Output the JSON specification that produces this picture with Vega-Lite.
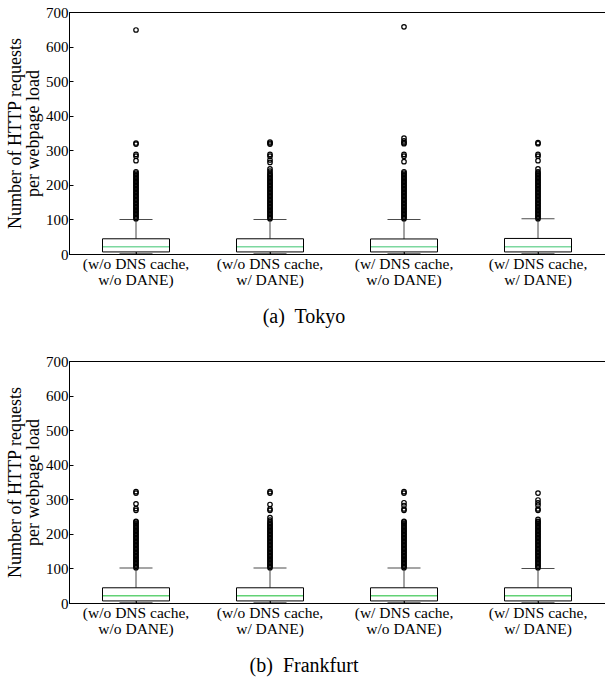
{
"$schema": "https://vega.github.io/schema/vega-lite/v6.json",
"padding": {"left": 6, "top": 4, "right": 0, "bottom": 0},
"background": "white",
"config": {
  "font": "Liberation Serif",
  "view": {"stroke": "#000", "strokeWidth": 1},
  "style": {"guide-label": {"font": "Liberation Serif, Times New Roman, serif", "fill": "#000"}, "guide-title": {"font": "Liberation Serif, Times New Roman, serif", "fill": "#000", "fontWeight": "normal"}},
  "axis": {"grid": false, "labelFont": "Liberation Serif, Times New Roman, serif", "labelFontSize": 15, "labelColor": "#000", "domainColor": "#000", "tickColor": "#000", "titleFont": "Liberation Serif, Times New Roman, serif", "titleFontWeight": "normal", "titleColor": "#000", "labelOverlap": false},
  "axisX": {"labelFont": "Liberation Serif, Times New Roman, serif", "labelColor": "#000", "title": null, "labelAngle": 0, "labelFontSize": 15.5, "labelLineHeight": 16.5, "labelPadding": 6, "tickSize": -4, "labelExpr": "datum.value == 'A' ? ['(w/o DNS cache,','w/o DANE)'] : datum.value == 'B' ? ['(w/o DNS cache,','w/ DANE)'] : datum.value == 'C' ? ['(w/ DNS cache,','w/o DANE)'] : ['(w/ DNS cache,','w/ DANE)']"},
  "axisY": {"labelFont": "Liberation Serif, Times New Roman, serif", "titleFont": "Liberation Serif, Times New Roman, serif", "labelColor": "#000", "titleColor": "#000", "titleFontWeight": "normal", "tickCount": 8, "titleFontSize": 18, "titleLineHeight": 18, "titlePadding": 3, "tickSize": -4, "labelPadding": 5, "labelFontSize": 15},
  "title": {"font": "Liberation Serif", "fontSize": 20, "fontWeight": "normal", "color": "#000"}
},
"datasets": {
  "stats": [
    {"city":"T","cat":"A","lo":1,"q1":6,"med":21,"q3":44,"hi":100},
    {"city":"T","cat":"B","lo":1,"q1":6,"med":21,"q3":44,"hi":100},
    {"city":"T","cat":"C","lo":1,"q1":6,"med":21,"q3":43.5,"hi":100},
    {"city":"T","cat":"D","lo":1,"q1":6,"med":21,"q3":45,"hi":102},
    {"city":"F","cat":"A","lo":1,"q1":6,"med":21,"q3":44,"hi":101},
    {"city":"F","cat":"B","lo":1,"q1":6,"med":21,"q3":44,"hi":101},
    {"city":"F","cat":"C","lo":1,"q1":6,"med":21,"q3":44,"hi":101},
    {"city":"F","cat":"D","lo":1,"q1":6,"med":21,"q3":44,"hi":100}
  ],
  "out": [
    {"city":"T","cat":"A","v":102},{"city":"T","cat":"A","v":106},{"city":"T","cat":"A","v":110},{"city":"T","cat":"A","v":114},{"city":"T","cat":"A","v":118},{"city":"T","cat":"A","v":122},{"city":"T","cat":"A","v":126},{"city":"T","cat":"A","v":130},{"city":"T","cat":"A","v":134},{"city":"T","cat":"A","v":138},{"city":"T","cat":"A","v":142},{"city":"T","cat":"A","v":146},{"city":"T","cat":"A","v":150},{"city":"T","cat":"A","v":154},{"city":"T","cat":"A","v":158},{"city":"T","cat":"A","v":162},{"city":"T","cat":"A","v":166},{"city":"T","cat":"A","v":170},{"city":"T","cat":"A","v":174},{"city":"T","cat":"A","v":178},{"city":"T","cat":"A","v":182},{"city":"T","cat":"A","v":186},{"city":"T","cat":"A","v":190},{"city":"T","cat":"A","v":194},{"city":"T","cat":"A","v":198},{"city":"T","cat":"A","v":202},{"city":"T","cat":"A","v":206},{"city":"T","cat":"A","v":210},{"city":"T","cat":"A","v":214},{"city":"T","cat":"A","v":218},{"city":"T","cat":"A","v":222},{"city":"T","cat":"A","v":226},{"city":"T","cat":"A","v":230},{"city":"T","cat":"A","v":234},
    {"city":"T","cat":"A","v":238},{"city":"T","cat":"A","v":270},{"city":"T","cat":"A","v":283},{"city":"T","cat":"A","v":288},{"city":"T","cat":"A","v":318},{"city":"T","cat":"A","v":321},{"city":"T","cat":"A","v":648},
    {"city":"T","cat":"B","v":102},{"city":"T","cat":"B","v":106},{"city":"T","cat":"B","v":110},{"city":"T","cat":"B","v":114},{"city":"T","cat":"B","v":118},{"city":"T","cat":"B","v":122},{"city":"T","cat":"B","v":126},{"city":"T","cat":"B","v":130},{"city":"T","cat":"B","v":134},{"city":"T","cat":"B","v":138},{"city":"T","cat":"B","v":142},{"city":"T","cat":"B","v":146},{"city":"T","cat":"B","v":150},{"city":"T","cat":"B","v":154},{"city":"T","cat":"B","v":158},{"city":"T","cat":"B","v":162},{"city":"T","cat":"B","v":166},{"city":"T","cat":"B","v":170},{"city":"T","cat":"B","v":174},{"city":"T","cat":"B","v":178},{"city":"T","cat":"B","v":182},{"city":"T","cat":"B","v":186},{"city":"T","cat":"B","v":190},{"city":"T","cat":"B","v":194},{"city":"T","cat":"B","v":198},{"city":"T","cat":"B","v":202},{"city":"T","cat":"B","v":206},{"city":"T","cat":"B","v":210},{"city":"T","cat":"B","v":214},{"city":"T","cat":"B","v":218},{"city":"T","cat":"B","v":222},{"city":"T","cat":"B","v":226},{"city":"T","cat":"B","v":230},{"city":"T","cat":"B","v":234},
    {"city":"T","cat":"B","v":240},{"city":"T","cat":"B","v":246},{"city":"T","cat":"B","v":265},{"city":"T","cat":"B","v":272},{"city":"T","cat":"B","v":283},{"city":"T","cat":"B","v":288},{"city":"T","cat":"B","v":318},{"city":"T","cat":"B","v":321},{"city":"T","cat":"B","v":324},
    {"city":"T","cat":"C","v":102},{"city":"T","cat":"C","v":106},{"city":"T","cat":"C","v":110},{"city":"T","cat":"C","v":114},{"city":"T","cat":"C","v":118},{"city":"T","cat":"C","v":122},{"city":"T","cat":"C","v":126},{"city":"T","cat":"C","v":130},{"city":"T","cat":"C","v":134},{"city":"T","cat":"C","v":138},{"city":"T","cat":"C","v":142},{"city":"T","cat":"C","v":146},{"city":"T","cat":"C","v":150},{"city":"T","cat":"C","v":154},{"city":"T","cat":"C","v":158},{"city":"T","cat":"C","v":162},{"city":"T","cat":"C","v":166},{"city":"T","cat":"C","v":170},{"city":"T","cat":"C","v":174},{"city":"T","cat":"C","v":178},{"city":"T","cat":"C","v":182},{"city":"T","cat":"C","v":186},{"city":"T","cat":"C","v":190},{"city":"T","cat":"C","v":194},{"city":"T","cat":"C","v":198},{"city":"T","cat":"C","v":202},{"city":"T","cat":"C","v":206},{"city":"T","cat":"C","v":210},{"city":"T","cat":"C","v":214},{"city":"T","cat":"C","v":218},{"city":"T","cat":"C","v":222},{"city":"T","cat":"C","v":226},{"city":"T","cat":"C","v":230},{"city":"T","cat":"C","v":234},
    {"city":"T","cat":"C","v":238},{"city":"T","cat":"C","v":267},{"city":"T","cat":"C","v":283},{"city":"T","cat":"C","v":288},{"city":"T","cat":"C","v":319},{"city":"T","cat":"C","v":322},{"city":"T","cat":"C","v":327},{"city":"T","cat":"C","v":335},{"city":"T","cat":"C","v":657},
    {"city":"T","cat":"D","v":102},{"city":"T","cat":"D","v":106},{"city":"T","cat":"D","v":110},{"city":"T","cat":"D","v":114},{"city":"T","cat":"D","v":118},{"city":"T","cat":"D","v":122},{"city":"T","cat":"D","v":126},{"city":"T","cat":"D","v":130},{"city":"T","cat":"D","v":134},{"city":"T","cat":"D","v":138},{"city":"T","cat":"D","v":142},{"city":"T","cat":"D","v":146},{"city":"T","cat":"D","v":150},{"city":"T","cat":"D","v":154},{"city":"T","cat":"D","v":158},{"city":"T","cat":"D","v":162},{"city":"T","cat":"D","v":166},{"city":"T","cat":"D","v":170},{"city":"T","cat":"D","v":174},{"city":"T","cat":"D","v":178},{"city":"T","cat":"D","v":182},{"city":"T","cat":"D","v":186},{"city":"T","cat":"D","v":190},{"city":"T","cat":"D","v":194},{"city":"T","cat":"D","v":198},{"city":"T","cat":"D","v":202},{"city":"T","cat":"D","v":206},{"city":"T","cat":"D","v":210},{"city":"T","cat":"D","v":214},{"city":"T","cat":"D","v":218},{"city":"T","cat":"D","v":222},{"city":"T","cat":"D","v":226},{"city":"T","cat":"D","v":230},{"city":"T","cat":"D","v":234},
    {"city":"T","cat":"D","v":238},{"city":"T","cat":"D","v":246},{"city":"T","cat":"D","v":270},{"city":"T","cat":"D","v":283},{"city":"T","cat":"D","v":288},{"city":"T","cat":"D","v":319},{"city":"T","cat":"D","v":322},
    {"city":"F","cat":"A","v":102},{"city":"F","cat":"A","v":106},{"city":"F","cat":"A","v":110},{"city":"F","cat":"A","v":114},{"city":"F","cat":"A","v":118},{"city":"F","cat":"A","v":122},{"city":"F","cat":"A","v":126},{"city":"F","cat":"A","v":130},{"city":"F","cat":"A","v":134},{"city":"F","cat":"A","v":138},{"city":"F","cat":"A","v":142},{"city":"F","cat":"A","v":146},{"city":"F","cat":"A","v":150},{"city":"F","cat":"A","v":154},{"city":"F","cat":"A","v":158},{"city":"F","cat":"A","v":162},{"city":"F","cat":"A","v":166},{"city":"F","cat":"A","v":170},{"city":"F","cat":"A","v":174},{"city":"F","cat":"A","v":178},{"city":"F","cat":"A","v":182},{"city":"F","cat":"A","v":186},{"city":"F","cat":"A","v":190},{"city":"F","cat":"A","v":194},{"city":"F","cat":"A","v":198},{"city":"F","cat":"A","v":202},{"city":"F","cat":"A","v":206},{"city":"F","cat":"A","v":210},{"city":"F","cat":"A","v":214},{"city":"F","cat":"A","v":218},{"city":"F","cat":"A","v":222},{"city":"F","cat":"A","v":226},{"city":"F","cat":"A","v":230},{"city":"F","cat":"A","v":234},
    {"city":"F","cat":"A","v":236},{"city":"F","cat":"A","v":268},{"city":"F","cat":"A","v":273},{"city":"F","cat":"A","v":287},{"city":"F","cat":"A","v":318},{"city":"F","cat":"A","v":322},
    {"city":"F","cat":"B","v":102},{"city":"F","cat":"B","v":106},{"city":"F","cat":"B","v":110},{"city":"F","cat":"B","v":114},{"city":"F","cat":"B","v":118},{"city":"F","cat":"B","v":122},{"city":"F","cat":"B","v":126},{"city":"F","cat":"B","v":130},{"city":"F","cat":"B","v":134},{"city":"F","cat":"B","v":138},{"city":"F","cat":"B","v":142},{"city":"F","cat":"B","v":146},{"city":"F","cat":"B","v":150},{"city":"F","cat":"B","v":154},{"city":"F","cat":"B","v":158},{"city":"F","cat":"B","v":162},{"city":"F","cat":"B","v":166},{"city":"F","cat":"B","v":170},{"city":"F","cat":"B","v":174},{"city":"F","cat":"B","v":178},{"city":"F","cat":"B","v":182},{"city":"F","cat":"B","v":186},{"city":"F","cat":"B","v":190},{"city":"F","cat":"B","v":194},{"city":"F","cat":"B","v":198},{"city":"F","cat":"B","v":202},{"city":"F","cat":"B","v":206},{"city":"F","cat":"B","v":210},{"city":"F","cat":"B","v":214},{"city":"F","cat":"B","v":218},{"city":"F","cat":"B","v":222},{"city":"F","cat":"B","v":226},{"city":"F","cat":"B","v":230},{"city":"F","cat":"B","v":234},
    {"city":"F","cat":"B","v":240},{"city":"F","cat":"B","v":247},{"city":"F","cat":"B","v":268},{"city":"F","cat":"B","v":272},{"city":"F","cat":"B","v":285},{"city":"F","cat":"B","v":318},{"city":"F","cat":"B","v":322},
    {"city":"F","cat":"C","v":102},{"city":"F","cat":"C","v":106},{"city":"F","cat":"C","v":110},{"city":"F","cat":"C","v":114},{"city":"F","cat":"C","v":118},{"city":"F","cat":"C","v":122},{"city":"F","cat":"C","v":126},{"city":"F","cat":"C","v":130},{"city":"F","cat":"C","v":134},{"city":"F","cat":"C","v":138},{"city":"F","cat":"C","v":142},{"city":"F","cat":"C","v":146},{"city":"F","cat":"C","v":150},{"city":"F","cat":"C","v":154},{"city":"F","cat":"C","v":158},{"city":"F","cat":"C","v":162},{"city":"F","cat":"C","v":166},{"city":"F","cat":"C","v":170},{"city":"F","cat":"C","v":174},{"city":"F","cat":"C","v":178},{"city":"F","cat":"C","v":182},{"city":"F","cat":"C","v":186},{"city":"F","cat":"C","v":190},{"city":"F","cat":"C","v":194},{"city":"F","cat":"C","v":198},{"city":"F","cat":"C","v":202},{"city":"F","cat":"C","v":206},{"city":"F","cat":"C","v":210},{"city":"F","cat":"C","v":214},{"city":"F","cat":"C","v":218},{"city":"F","cat":"C","v":222},{"city":"F","cat":"C","v":226},{"city":"F","cat":"C","v":230},{"city":"F","cat":"C","v":234},
    {"city":"F","cat":"C","v":236},{"city":"F","cat":"C","v":268},{"city":"F","cat":"C","v":272},{"city":"F","cat":"C","v":282},{"city":"F","cat":"C","v":290},{"city":"F","cat":"C","v":318},{"city":"F","cat":"C","v":322},
    {"city":"F","cat":"D","v":102},{"city":"F","cat":"D","v":106},{"city":"F","cat":"D","v":110},{"city":"F","cat":"D","v":114},{"city":"F","cat":"D","v":118},{"city":"F","cat":"D","v":122},{"city":"F","cat":"D","v":126},{"city":"F","cat":"D","v":130},{"city":"F","cat":"D","v":134},{"city":"F","cat":"D","v":138},{"city":"F","cat":"D","v":142},{"city":"F","cat":"D","v":146},{"city":"F","cat":"D","v":150},{"city":"F","cat":"D","v":154},{"city":"F","cat":"D","v":158},{"city":"F","cat":"D","v":162},{"city":"F","cat":"D","v":166},{"city":"F","cat":"D","v":170},{"city":"F","cat":"D","v":174},{"city":"F","cat":"D","v":178},{"city":"F","cat":"D","v":182},{"city":"F","cat":"D","v":186},{"city":"F","cat":"D","v":190},{"city":"F","cat":"D","v":194},{"city":"F","cat":"D","v":198},{"city":"F","cat":"D","v":202},{"city":"F","cat":"D","v":206},{"city":"F","cat":"D","v":210},{"city":"F","cat":"D","v":214},{"city":"F","cat":"D","v":218},{"city":"F","cat":"D","v":222},{"city":"F","cat":"D","v":226},{"city":"F","cat":"D","v":230},{"city":"F","cat":"D","v":234},
    {"city":"F","cat":"D","v":236},{"city":"F","cat":"D","v":242},{"city":"F","cat":"D","v":268},{"city":"F","cat":"D","v":272},{"city":"F","cat":"D","v":283},{"city":"F","cat":"D","v":290},{"city":"F","cat":"D","v":298},{"city":"F","cat":"D","v":318}
  ]
},
"bounds": "flush",
"spacing": 107,
"vconcat": [
 {
  "width": 536, "height": 242,
  "title": {"text": "(a)\u00a0 Tokyo", "orient": "bottom", "offset": 19, "fontSize": 20, "dx": -33, "font": "Liberation Serif"},
  "layer": [
   {"data": {"name": "stats"}, "transform": [{"filter": "datum.city == 'T'"}],
    "mark": {"type": "rule", "color": "#444", "strokeWidth": 1},
    "encoding": {
      "x": {"field": "cat", "type": "nominal", "sort": ["A","B","C","D"], "scale": {"domain": ["A","B","C","D"], "paddingInner": 0.5, "paddingOuter": 0.25}, "title": null},
      "y": {"field": "q3", "type": "quantitative", "scale": {"domain": [0, 700], "nice": false}, "title": ["Number of HTTP requests", "per webpage load"]},
      "y2": {"field": "hi"}}},
   {"data": {"name": "stats"}, "transform": [{"filter": "datum.city == 'T'"}],
    "mark": {"type": "rule", "color": "#444", "strokeWidth": 1},
    "encoding": {"x": {"field": "cat", "type": "nominal", "title": null}, "y": {"field": "lo", "type": "quantitative", "title": ["Number of HTTP requests", "per webpage load"]}, "y2": {"field": "q1"}}},
   {"data": {"name": "stats"}, "transform": [{"filter": "datum.city == 'T'"}],
    "mark": {"type": "tick", "size": 33, "thickness": 1, "color": "#000"},
    "encoding": {"x": {"field": "cat", "type": "nominal", "title": null}, "y": {"field": "hi", "type": "quantitative", "title": ["Number of HTTP requests", "per webpage load"]}}},
   {"data": {"name": "stats"}, "transform": [{"filter": "datum.city == 'T'"}],
    "mark": {"type": "tick", "size": 33, "thickness": 1, "color": "#000"},
    "encoding": {"x": {"field": "cat", "type": "nominal", "title": null}, "y": {"field": "lo", "type": "quantitative", "title": ["Number of HTTP requests", "per webpage load"]}}},
   {"data": {"name": "stats"}, "transform": [{"filter": "datum.city == 'T'"}],
    "mark": {"type": "bar", "fill": "#fff", "stroke": "#000", "strokeWidth": 1},
    "encoding": {"x": {"field": "cat", "type": "nominal", "title": null}, "y": {"field": "q1", "type": "quantitative", "title": ["Number of HTTP requests", "per webpage load"]}, "y2": {"field": "q3"}}},
   {"data": {"name": "stats"}, "transform": [{"filter": "datum.city == 'T'"}],
    "mark": {"type": "tick", "size": 66, "thickness": 1.5, "color": "#44c776"},
    "encoding": {"x": {"field": "cat", "type": "nominal", "title": null}, "y": {"field": "med", "type": "quantitative", "title": ["Number of HTTP requests", "per webpage load"]}}},
   {"data": {"name": "out"}, "transform": [{"filter": "datum.city == 'T'"}],
    "mark": {"type": "point", "shape": "circle", "filled": false, "size": 20, "strokeWidth": 1.2, "color": "#000", "opacity": 1},
    "encoding": {"x": {"field": "cat", "type": "nominal", "title": null}, "y": {"field": "v", "type": "quantitative", "title": ["Number of HTTP requests", "per webpage load"]}}}
  ]
 },
 {
  "width": 536, "height": 242,
  "title": {"text": "(b)\u00a0 Frankfurt", "orient": "bottom", "offset": 19, "fontSize": 20, "dx": -33, "font": "Liberation Serif"},
  "layer": [
   {"data": {"name": "stats"}, "transform": [{"filter": "datum.city == 'F'"}],
    "mark": {"type": "rule", "color": "#444", "strokeWidth": 1},
    "encoding": {
      "x": {"field": "cat", "type": "nominal", "sort": ["A","B","C","D"], "scale": {"domain": ["A","B","C","D"], "paddingInner": 0.5, "paddingOuter": 0.25}, "title": null},
      "y": {"field": "q3", "type": "quantitative", "scale": {"domain": [0, 700], "nice": false}, "title": ["Number of HTTP requests", "per webpage load"]},
      "y2": {"field": "hi"}}},
   {"data": {"name": "stats"}, "transform": [{"filter": "datum.city == 'F'"}],
    "mark": {"type": "rule", "color": "#444", "strokeWidth": 1},
    "encoding": {"x": {"field": "cat", "type": "nominal", "title": null}, "y": {"field": "lo", "type": "quantitative", "title": ["Number of HTTP requests", "per webpage load"]}, "y2": {"field": "q1"}}},
   {"data": {"name": "stats"}, "transform": [{"filter": "datum.city == 'F'"}],
    "mark": {"type": "tick", "size": 33, "thickness": 1, "color": "#000"},
    "encoding": {"x": {"field": "cat", "type": "nominal", "title": null}, "y": {"field": "hi", "type": "quantitative", "title": ["Number of HTTP requests", "per webpage load"]}}},
   {"data": {"name": "stats"}, "transform": [{"filter": "datum.city == 'F'"}],
    "mark": {"type": "tick", "size": 33, "thickness": 1, "color": "#000"},
    "encoding": {"x": {"field": "cat", "type": "nominal", "title": null}, "y": {"field": "lo", "type": "quantitative", "title": ["Number of HTTP requests", "per webpage load"]}}},
   {"data": {"name": "stats"}, "transform": [{"filter": "datum.city == 'F'"}],
    "mark": {"type": "bar", "fill": "#fff", "stroke": "#000", "strokeWidth": 1},
    "encoding": {"x": {"field": "cat", "type": "nominal", "title": null}, "y": {"field": "q1", "type": "quantitative", "title": ["Number of HTTP requests", "per webpage load"]}, "y2": {"field": "q3"}}},
   {"data": {"name": "stats"}, "transform": [{"filter": "datum.city == 'F'"}],
    "mark": {"type": "tick", "size": 66, "thickness": 1.5, "color": "#1fbf3a"},
    "encoding": {"x": {"field": "cat", "type": "nominal", "title": null}, "y": {"field": "med", "type": "quantitative", "title": ["Number of HTTP requests", "per webpage load"]}}},
   {"data": {"name": "out"}, "transform": [{"filter": "datum.city == 'F'"}],
    "mark": {"type": "point", "shape": "circle", "filled": false, "size": 20, "strokeWidth": 1.2, "color": "#000", "opacity": 1},
    "encoding": {"x": {"field": "cat", "type": "nominal", "title": null}, "y": {"field": "v", "type": "quantitative", "title": ["Number of HTTP requests", "per webpage load"]}}}
  ]
 }
]
}
